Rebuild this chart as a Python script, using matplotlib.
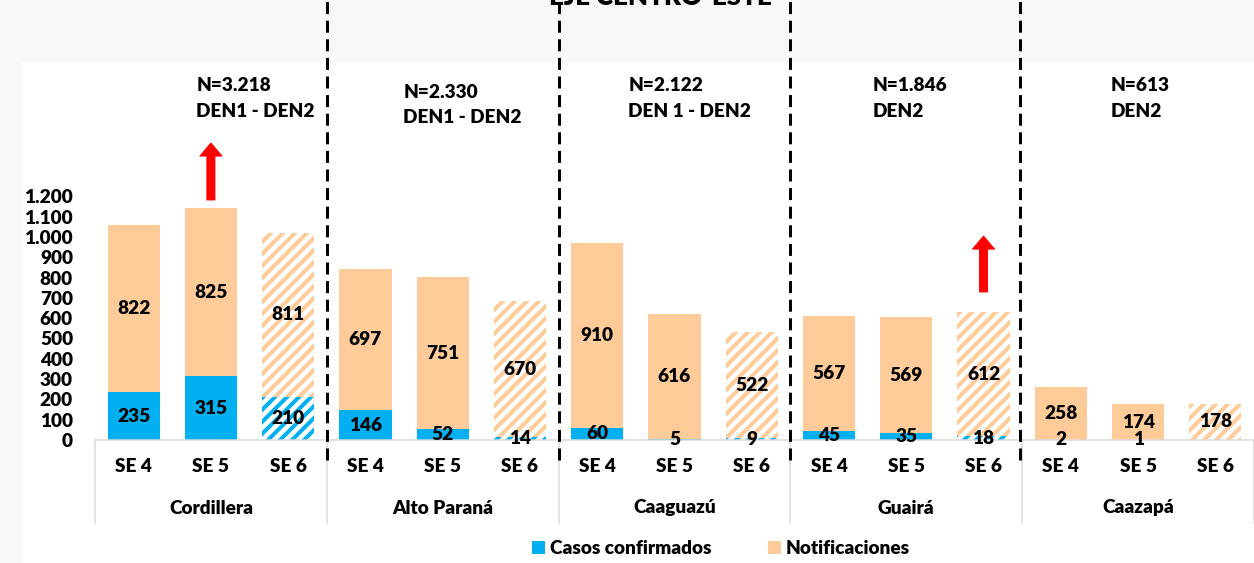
import numpy as np
import matplotlib.pyplot as plt
from matplotlib.patches import Patch, Rectangle
import matplotlib.transforms as mtransforms

plt.rcParams['font.family'] = ['Lato', 'DejaVu Sans']
plt.rcParams['font.weight'] = 'heavy'
plt.rcParams['hatch.linewidth'] = 4

# data
departamentos = ['Cordillera', 'Alto Paraná', 'Caaguazú', 'Guairá', 'Caazapá']
semanas = ['SE 4', 'SE 5', 'SE 6']
confirmados = [235, 315, 210, 146, 52, 14, 60, 5, 9, 45, 35, 18, 2, 1, 0]
notificaciones = [822, 825, 811, 697, 751, 670, 910, 616, 522, 567, 569, 612, 258, 174, 178]
n_totales = ['N=3.218', 'N=2.330', 'N=2.122', 'N=1.846', 'N=613']
serotipos = ['DEN1 - DEN2', 'DEN1 - DEN2', 'DEN 1 - DEN2', 'DEN2', 'DEN2']
y_ticks = list(range(0, 1300, 100))

azul = '#00B0F0'
durazno = '#FFCC99'
fs = 19

W, H = 1254, 563
fig = plt.figure(figsize=(W / 72, H / 72), dpi=72, facecolor='#f8f8f8')
fig.patches.append(Rectangle((22 / W, 0), 1, 1 - 62 / H, transform=fig.transFigure,
                             facecolor='white', edgecolor='none', zorder=-10))
ax = fig.add_axes([95 / W, (H - 440) / H, 1 - 95 / W, (440 - 62) / H])
ax.set_facecolor('white')

x = np.arange(len(confirmados))
for i in x:
    sem = i % 3
    if sem == 2:
        ax.bar(i, confirmados[i], 0.675, facecolor='white', edgecolor=azul, hatch='//', linewidth=0)
        ax.bar(i, notificaciones[i], 0.675, bottom=confirmados[i], facecolor='white',
               edgecolor=durazno, hatch='//', linewidth=0)
    else:
        ax.bar(i, confirmados[i], 0.675, color=azul, linewidth=0)
        ax.bar(i, notificaciones[i], 0.675, bottom=confirmados[i], color=durazno, linewidth=0)
    if confirmados[i] > 0:
        ax.text(i, confirmados[i] / 2, str(confirmados[i]), ha='center', va='center', fontsize=fs)
    ax.text(i, confirmados[i] + notificaciones[i] / 2, str(notificaciones[i]),
            ha='center', va='center', fontsize=fs)

ax.set_xlim(-0.5, 14.5)
ax.set_ylim(0, 1861)
ax.set_yticks(y_ticks)
ax.set_yticklabels([f'{v:,}'.replace(',', '.') for v in y_ticks], fontsize=fs)
ax.tick_params(axis='y', length=0, pad=22)
ax.set_xticks([])
for s in ['top', 'right', 'left']:
    ax.spines[s].set_visible(False)
ax.spines['bottom'].set_color('#d9d9d9')
ax.spines['bottom'].set_linewidth(1.5)

# category axis: week labels, department labels, separators
trans = mtransforms.blended_transform_factory(ax.transData, ax.transAxes)
ax_h = 440 - 62
for i in x:
    ax.text(i, -(467 - 440) / ax_h, semanas[i % 3], transform=trans, ha='center', va='center', fontsize=fs)
for g, dep in enumerate(departamentos):
    ax.text(3 * g + 1, -(508 - 440) / ax_h, dep, transform=trans, ha='center', va='center', fontsize=fs)
for b in [-0.5, 2.5, 5.5, 8.5, 11.5, 14.5]:
    ax.plot([b, b], [0, -(523 - 440) / ax_h], transform=trans, color='#d9d9d9', lw=1.5, clip_on=False)

# black dashed dividers
for b in [2.5, 5.5, 8.5, 11.47]:
    ax.plot([b, b], [-(460 - 440) / ax_h, (440 - 0) / ax_h], transform=trans, color='black',
            lw=3, ls=(0, (4, 2.2)), clip_on=False, zorder=5)

# N annotations
n_pos = [(0.81, 1743, 1615), (3.49, 1713, 1590), (6.40, 1743, 1615), (9.57, 1743, 1615), (12.64, 1743, 1615)]
for (px, y1, y2), nt, st in zip(n_pos, n_totales, serotipos):
    ax.text(px, y1, nt, ha='left', va='center', fontsize=fs)
    ax.text(px, y2, st, ha='left', va='center', fontsize=fs)

# red arrows
for xa, y0, y1 in [(1, 1182, 1462), (11, 729, 1004)]:
    ax.annotate('', xy=(xa, y1), xytext=(xa, y0),
                arrowprops=dict(width=8, headwidth=22, headlength=13, color='red', shrink=0))

# title (cut off at top, as in the original slide)
fig.text(660 / W, 1 - 5 / H, 'EJE CENTRO-ESTE', ha='center', va='baseline', fontsize=26)

handles = [Patch(color=azul, label='Casos confirmados'), Patch(color=durazno, label='Notificaciones')]
fig.legend(handles=handles, loc='center', bbox_to_anchor=(721 / W, 1 - 548 / H), ncol=2,
           frameon=False, fontsize=fs, handlelength=0.62, handleheight=0.62,
           handletextpad=0.3, columnspacing=3.0)

fig.savefig('out.png', dpi=72, facecolor=fig.get_facecolor())
